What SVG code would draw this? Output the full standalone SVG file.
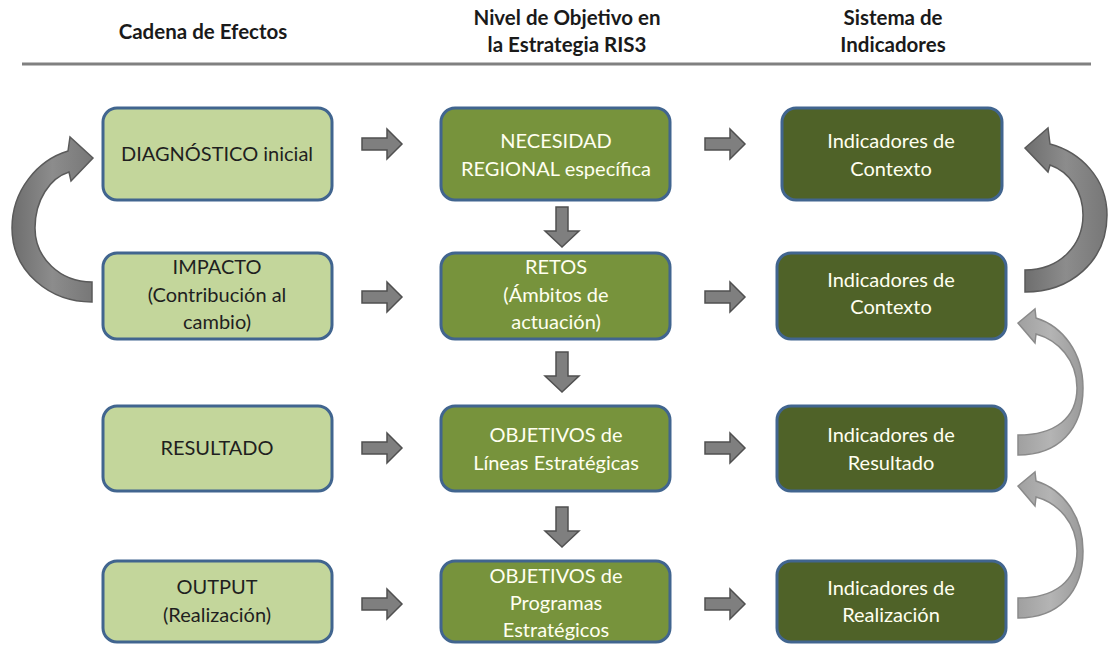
<svg xmlns="http://www.w3.org/2000/svg" xmlns:xlink="http://www.w3.org/1999/xlink" width="1110" height="645" viewBox="0 0 1110 645">
<style>
  .hdr { font-family: Lato, "Liberation Sans", sans-serif; font-weight: bold; font-size: 20.5px; fill: #1a1a1a; text-anchor: middle; }
  .box { stroke: #41658F; stroke-width: 3; }
  .c1 { fill: #C3D69B; }
  .c2 { fill: #77933C; }
  .c3 { fill: #4F6228; }
  .t { font-family: Lato, "Liberation Sans", sans-serif; font-size: 20px; text-anchor: middle; }
  .dk { fill: #1F1F1F; }
  .lt { fill: #FFFFF0; }
  .blk { fill: #7F7F7F; stroke: #505050; stroke-width: 1.5; }
  .big { fill: url(#gBig); stroke: #5A5A5A; stroke-width: 1.5; }
  .sml { fill: url(#gSml); stroke: #8A8A8A; stroke-width: 1.5; }
</style>
<defs>
  <linearGradient id="gBig" x1="0" y1="0" x2="1" y2="0">
    <stop offset="0" stop-color="#6E6E6E"/>
    <stop offset="0.5" stop-color="#8C8C8C"/>
    <stop offset="1" stop-color="#777777"/>
  </linearGradient>
  <linearGradient id="gSml" x1="0" y1="0" x2="1" y2="0">
    <stop offset="0" stop-color="#A0A0A0"/>
    <stop offset="0.5" stop-color="#B4B4B4"/>
    <stop offset="1" stop-color="#9A9A9A"/>
  </linearGradient>
  <path id="ha" d="M0,-6 H25 V-15 L40,0 L25,15 V6 H0 Z"/>
  <path id="va" d="M-6,0 H6 V24 H17 L0,40 L-17,24 H-6 Z"/>
</defs>

<g id="header">
  <text class="hdr" x="203" y="39">Cadena de Efectos</text>
  <text class="hdr" x="567" y="25">Nivel de Objetivo en</text>
  <text class="hdr" x="567" y="52">la Estrategia RIS3</text>
  <text class="hdr" x="893" y="25">Sistema de</text>
  <text class="hdr" x="893" y="52">Indicadores</text>
  <rect x="22" y="62.5" width="1069" height="3" fill="#808080"/>
</g>

<g id="connectors">
  <use href="#ha" class="blk" x="362" y="144"/>
  <use href="#ha" class="blk" x="362" y="297"/>
  <use href="#ha" class="blk" x="362" y="448"/>
  <use href="#ha" class="blk" x="362" y="604"/>
  <use href="#ha" class="blk" x="705" y="144"/>
  <use href="#ha" class="blk" x="705" y="297"/>
  <use href="#ha" class="blk" x="705" y="448"/>
  <use href="#ha" class="blk" x="705" y="604"/>
  <use href="#va" class="blk" x="562" y="207"/>
  <use href="#va" class="blk" x="562" y="352"/>
  <use href="#va" class="blk" x="562" y="507"/>
  <path class="big" d="M92,302 C50,302 12,272 12,228 C12,190 38,160 68,151 L70,137 L93,158 L71,181 L69,172 C50,178 35,200 35,228 C35,258 60,282 92,282 Z"/>
  <path class="big" d="M1025,292 C1070,292 1107,262 1107,215 C1107,178 1080,152 1050,144 L1048,128 L1025,148 L1048,172 L1050,165 C1070,172 1083,192 1083,215 C1083,245 1060,270 1025,270 Z"/>
  <path class="sml" d="M1018,455 C1058,455 1083,430 1083,388 C1083,352 1062,326 1036,318 L1035,309 L1018,323 L1035,343 L1036,334 C1058,340 1077,360 1077,388 C1077,418 1055,435 1018,435 Z"/>
  <path class="sml" transform="translate(0,163)" d="M1018,455 C1058,455 1083,430 1083,388 C1083,352 1062,326 1036,318 L1035,309 L1018,323 L1035,343 L1036,334 C1058,340 1077,360 1077,388 C1077,418 1055,435 1018,435 Z"/>
</g>

<g id="n-diagnostico">
  <rect class="box c1" x="103" y="108" width="229" height="92" rx="14"/>
  <text class="t dk" x="217" y="161">DIAGNÓSTICO inicial</text>
</g>
<g id="n-impacto">
  <rect class="box c1" x="103" y="253" width="229" height="86" rx="14"/>
  <text class="t dk" x="217" y="274">IMPACTO</text>
  <text class="t dk" x="217" y="302">(Contribución al</text>
  <text class="t dk" x="217" y="329">cambio)</text>
</g>
<g id="n-resultado">
  <rect class="box c1" x="103" y="406" width="229" height="85" rx="14"/>
  <text class="t dk" x="217" y="455">RESULTADO</text>
</g>
<g id="n-output">
  <rect class="box c1" x="103" y="561" width="229" height="81" rx="14"/>
  <text class="t dk" x="217" y="594">OUTPUT</text>
  <text class="t dk" x="217" y="622">(Realización)</text>
</g>

<g id="n-necesidad">
  <rect class="box c2" x="441" y="108" width="229" height="92" rx="14"/>
  <text class="t lt" x="556" y="148">NECESIDAD</text>
  <text class="t lt" x="556" y="176">REGIONAL específica</text>
</g>
<g id="n-retos">
  <rect class="box c2" x="441" y="253" width="229" height="86" rx="14"/>
  <text class="t lt" x="556" y="274">RETOS</text>
  <text class="t lt" x="556" y="302">(Ámbitos de</text>
  <text class="t lt" x="556" y="329">actuación)</text>
</g>
<g id="n-obj-lineas">
  <rect class="box c2" x="441" y="406" width="229" height="85" rx="14"/>
  <text class="t lt" x="556" y="442">OBJETIVOS de</text>
  <text class="t lt" x="556" y="470">Líneas Estratégicas</text>
</g>
<g id="n-obj-programas">
  <rect class="box c2" x="441" y="561" width="229" height="81" rx="14"/>
  <text class="t lt" x="556" y="583">OBJETIVOS de</text>
  <text class="t lt" x="556" y="610">Programas</text>
  <text class="t lt" x="556" y="637">Estratégicos</text>
</g>

<g id="n-ind-contexto-1">
  <rect class="box c3" x="782" y="108" width="220" height="92" rx="14"/>
  <text class="t lt" x="891" y="148">Indicadores de</text>
  <text class="t lt" x="891" y="176">Contexto</text>
</g>
<g id="n-ind-contexto-2">
  <rect class="box c3" x="777" y="253" width="229" height="86" rx="14"/>
  <text class="t lt" x="891" y="287">Indicadores de</text>
  <text class="t lt" x="891" y="314">Contexto</text>
</g>
<g id="n-ind-resultado">
  <rect class="box c3" x="777" y="406" width="229" height="85" rx="14"/>
  <text class="t lt" x="891" y="442">Indicadores de</text>
  <text class="t lt" x="891" y="470">Resultado</text>
</g>
<g id="n-ind-realizacion">
  <rect class="box c3" x="777" y="561" width="229" height="81" rx="14"/>
  <text class="t lt" x="891" y="595">Indicadores de</text>
  <text class="t lt" x="891" y="622">Realización</text>
</g>
</svg>
